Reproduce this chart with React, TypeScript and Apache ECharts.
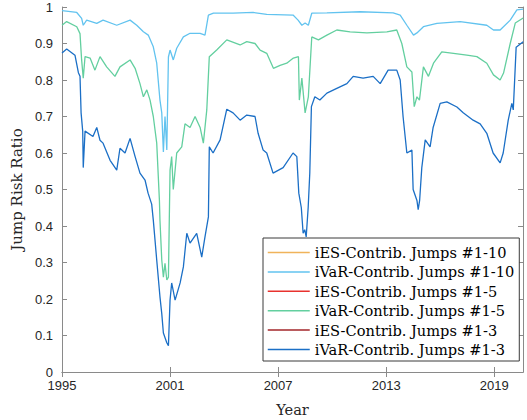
import React, { useEffect, useRef } from "react";
import * as echarts from "echarts";

// x positions in decimal years, values are jump-risk ratios
const ivar10Years = [1995.0, 1995.82, 1996.09, 1996.18, 1996.37, 1996.93, 1997.28, 1998.04, 1998.78, 1999.15, 1999.52, 1999.79, 2000.07, 2000.26, 2000.44, 2000.54, 2000.63, 2000.72, 2000.82, 2000.91, 2001.0, 2001.18, 2001.37, 2001.74, 2002.11, 2002.67, 2002.94, 2003.13, 2003.41, 2004.5, 2005.61, 2006.37, 2007.83, 2008.11, 2008.32, 2008.5, 2008.68, 2008.87, 2009.71, 2011.56, 2013.39, 2013.78, 2014.15, 2014.52, 2014.71, 2015.07, 2015.82, 2017.11, 2018.59, 2018.96, 2019.33, 2019.89, 2020.26, 2020.61];
const ivar10Values = [0.99, 0.985, 0.969, 0.95, 0.964, 0.955, 0.964, 0.95, 0.964, 0.95, 0.932, 0.923, 0.891, 0.846, 0.745, 0.71, 0.603, 0.7, 0.608, 0.863, 0.882, 0.855, 0.887, 0.918, 0.928, 0.928, 0.923, 0.978, 0.983, 0.983, 0.985, 0.98, 0.978, 0.964, 0.95, 0.956, 0.95, 0.983, 0.984, 0.987, 0.984, 0.978, 0.95, 0.923, 0.929, 0.946, 0.955, 0.96, 0.95, 0.937, 0.937, 0.964, 0.992, 0.994];

const ivar5Years = [1995.0, 1995.26, 1995.82, 1996.0, 1996.09, 1996.18, 1996.28, 1996.56, 1996.83, 1997.11, 1997.48, 1997.94, 1998.22, 1998.78, 1999.06, 1999.33, 1999.52, 1999.71, 1999.89, 2000.07, 2000.26, 2000.41, 2000.44, 2000.54, 2000.63, 2000.72, 2000.82, 2000.91, 2001.0, 2001.09, 2001.18, 2001.37, 2001.65, 2001.83, 2002.11, 2002.39, 2002.67, 2002.85, 2003.04, 2003.18, 2003.59, 2004.15, 2004.89, 2005.26, 2005.72, 2006.0, 2006.37, 2006.74, 2007.11, 2007.48, 2007.85, 2008.13, 2008.18, 2008.32, 2008.5, 2008.68, 2008.87, 2009.24, 2009.71, 2010.26, 2011.0, 2011.93, 2013.04, 2013.59, 2013.87, 2014.15, 2014.43, 2014.56, 2014.71, 2014.85, 2015.07, 2015.35, 2015.63, 2016.09, 2016.74, 2017.48, 2018.04, 2018.59, 2018.96, 2019.33, 2019.52, 2019.89, 2020.17, 2020.61];
const ivar5Values = [0.95, 0.96, 0.946, 0.927, 0.855, 0.805, 0.864, 0.86, 0.827, 0.864, 0.836, 0.81, 0.836, 0.855, 0.832, 0.79, 0.754, 0.773, 0.745, 0.7, 0.627, 0.47, 0.416, 0.307, 0.26, 0.298, 0.252, 0.26, 0.553, 0.59, 0.5, 0.6, 0.617, 0.68, 0.67, 0.7, 0.67, 0.627, 0.718, 0.864, 0.882, 0.91, 0.896, 0.905, 0.9, 0.882, 0.873, 0.832, 0.84, 0.846, 0.86, 0.864, 0.745, 0.805, 0.71, 0.754, 0.918, 0.91, 0.923, 0.937, 0.932, 0.929, 0.932, 0.937, 0.9, 0.836, 0.822, 0.727, 0.754, 0.745, 0.836, 0.81, 0.846, 0.877, 0.873, 0.868, 0.864, 0.846, 0.814, 0.8, 0.819, 0.9, 0.956, 0.97];

const ivar3Years = [1995.0, 1995.26, 1995.72, 1995.91, 1996.0, 1996.06, 1996.15, 1996.18, 1996.28, 1996.72, 1996.93, 1997.11, 1997.28, 1997.67, 1998.04, 1998.22, 1998.5, 1998.78, 1999.06, 1999.33, 1999.61, 1999.78, 1999.98, 2000.07, 2000.26, 2000.44, 2000.54, 2000.63, 2000.82, 2000.91, 2001.0, 2001.09, 2001.28, 2001.56, 2001.74, 2001.93, 2002.11, 2002.48, 2002.76, 2002.94, 2003.13, 2003.18, 2003.39, 2003.78, 2004.15, 2004.5, 2004.89, 2005.26, 2005.72, 2005.89, 2006.17, 2006.37, 2006.72, 2007.28, 2007.83, 2008.04, 2008.15, 2008.29, 2008.39, 2008.48, 2008.56, 2008.67, 2008.76, 2008.85, 2009.04, 2009.32, 2009.71, 2010.26, 2010.82, 2011.17, 2011.72, 2012.28, 2012.67, 2013.11, 2013.59, 2013.78, 2013.94, 2014.15, 2014.43, 2014.5, 2014.71, 2014.78, 2014.86, 2014.98, 2015.17, 2015.44, 2015.61, 2016.0, 2016.37, 2016.93, 2017.28, 2017.83, 2018.22, 2018.59, 2018.94, 2019.33, 2019.5, 2019.78, 2019.98, 2020.06, 2020.22, 2020.61];
const ivar3Values = [0.874, 0.885, 0.868, 0.82, 0.81, 0.71, 0.66, 0.56, 0.66, 0.645, 0.67, 0.635, 0.627, 0.58, 0.553, 0.613, 0.6, 0.64, 0.59, 0.545, 0.526, 0.49, 0.46, 0.416, 0.307, 0.206, 0.16, 0.107, 0.08, 0.072, 0.197, 0.244, 0.197, 0.244, 0.288, 0.38, 0.353, 0.38, 0.315, 0.37, 0.425, 0.617, 0.6, 0.636, 0.72, 0.71, 0.69, 0.704, 0.7, 0.654, 0.608, 0.6, 0.545, 0.56, 0.6, 0.59, 0.49, 0.45, 0.38, 0.39, 0.37, 0.45, 0.545, 0.727, 0.754, 0.745, 0.764, 0.777, 0.79, 0.81, 0.805, 0.81, 0.79, 0.827, 0.827, 0.8, 0.7, 0.6, 0.608, 0.5, 0.47, 0.445, 0.47, 0.56, 0.636, 0.617, 0.67, 0.736, 0.74, 0.726, 0.71, 0.69, 0.68, 0.654, 0.6, 0.573, 0.6, 0.69, 0.736, 0.718, 0.89, 0.905];

const seriesNames = [
  "iES-Contrib. Jumps #1-10",
  "iVaR-Contrib. Jumps #1-10",
  "iES-Contrib. Jumps #1-5",
  "iVaR-Contrib. Jumps #1-5",
  "iES-Contrib. Jumps #1-3",
  "iVaR-Contrib. Jumps #1-3",
];
const seriesColors = ["#f0b35a", "#62c3ef", "#e8322e", "#63cf9f", "#a3262a", "#1b6fc6"];
// iES curves lie fully hidden under the iVaR curves in the figure
const seriesYears = [ivar10Years, ivar10Years, ivar5Years, ivar5Years, ivar3Years, ivar3Years];
const seriesValues = [ivar10Values, ivar10Values, ivar5Values, ivar5Values, ivar3Values, ivar3Values];
const seriesHidden = [true, false, true, false, true, false];

const xTickValues = [1995, 2001, 2007, 2013, 2019];
const xMin = 1995;
const xMax = 2020.6;

export default function App() {
  const ref = useRef<HTMLDivElement>(null);
  useEffect(() => {
    if (!ref.current) return;
    const chart = echarts.init(ref.current, null, { renderer: "svg" });
    const axisColor = "#8a8a8a";
    const labelStyle = { color: "#262626", fontFamily: "Liberation Sans, Arial, sans-serif", fontSize: 13 };
    chart.setOption({
      animation: false,
      backgroundColor: "#ffffff",
      grid: { left: 62, right: 4, top: 7, bottom: 48, outerBoundsMode: "none" },
      legend: {
        orient: "vertical",
        left: 263,
        top: 238,
        padding: [7, 5, 4, 4],
        itemGap: 4.4,
        itemWidth: 42,
        itemHeight: 14,
        backgroundColor: "#ffffff",
        borderColor: "#3a3a3a",
        borderWidth: 1,
        borderRadius: 0,
        data: seriesNames,
        itemStyle: { opacity: 0 },
        lineStyle: { width: 1.5, opacity: 1 },
        textStyle: { fontFamily: "DejaVu Serif, serif", fontSize: 14.6, color: "#000", lineHeight: 14 },
      },
      xAxis: [
        {
          type: "value",
          min: xMin,
          max: xMax,
          name: "Year",
          nameLocation: "middle",
          nameGap: 30,
          nameTextStyle: { fontFamily: "DejaVu Serif, serif", fontSize: 14.6, color: "#262626" },
          axisLine: { show: true, lineStyle: { color: axisColor, width: 1 } },
          axisTick: { show: true, inside: true, length: 5, customValues: xTickValues, lineStyle: { color: axisColor } },
          axisLabel: { show: true, margin: 7, customValues: xTickValues, formatter: (v: number) => String(v), ...labelStyle },
          splitLine: { show: false },
        },
        {
          type: "value",
          position: "top",
          min: xMin,
          max: xMax,
          axisLine: { show: true, lineStyle: { color: axisColor, width: 1 } },
          axisTick: { show: true, inside: true, length: 5, customValues: xTickValues, lineStyle: { color: axisColor } },
          axisLabel: { show: false },
          splitLine: { show: false },
        },
      ],
      yAxis: [
        {
          type: "value",
          min: 0,
          max: 1,
          interval: 0.1,
          name: "Jump Risk Ratio",
          nameLocation: "middle",
          nameGap: 34,
          nameTextStyle: { fontFamily: "DejaVu Serif, serif", fontSize: 15, color: "#262626" },
          axisLine: { show: true, lineStyle: { color: axisColor, width: 1 } },
          axisTick: { show: true, inside: true, length: 5, lineStyle: { color: axisColor } },
          axisLabel: { margin: 9, formatter: (v: number) => String(Math.round(v * 10) / 10), ...labelStyle },
          splitLine: { show: false },
        },
        {
          type: "value",
          position: "right",
          min: 0,
          max: 1,
          interval: 0.1,
          axisLine: { show: true, lineStyle: { color: axisColor, width: 1 } },
          axisTick: { show: true, inside: true, length: 5, lineStyle: { color: axisColor } },
          axisLabel: { show: false },
          splitLine: { show: false },
        },
      ],
      series: seriesNames.map((name, i) => ({
        name,
        type: "line",
        xAxisIndex: 0,
        yAxisIndex: 0,
        symbol: "none",
        showSymbol: false,
        color: seriesColors[i],
        lineStyle: { color: seriesColors[i], width: 1.3, opacity: seriesHidden[i] ? 0 : 1 },
        data: seriesYears[i].map((yr, j) => [yr, seriesValues[i][j]]),
      })),
    });
    return () => chart.dispose();
  }, []);
  return <div ref={ref} style={{ position: "fixed", left: 0, top: 0, width: 527, height: 420 }} />;
}
